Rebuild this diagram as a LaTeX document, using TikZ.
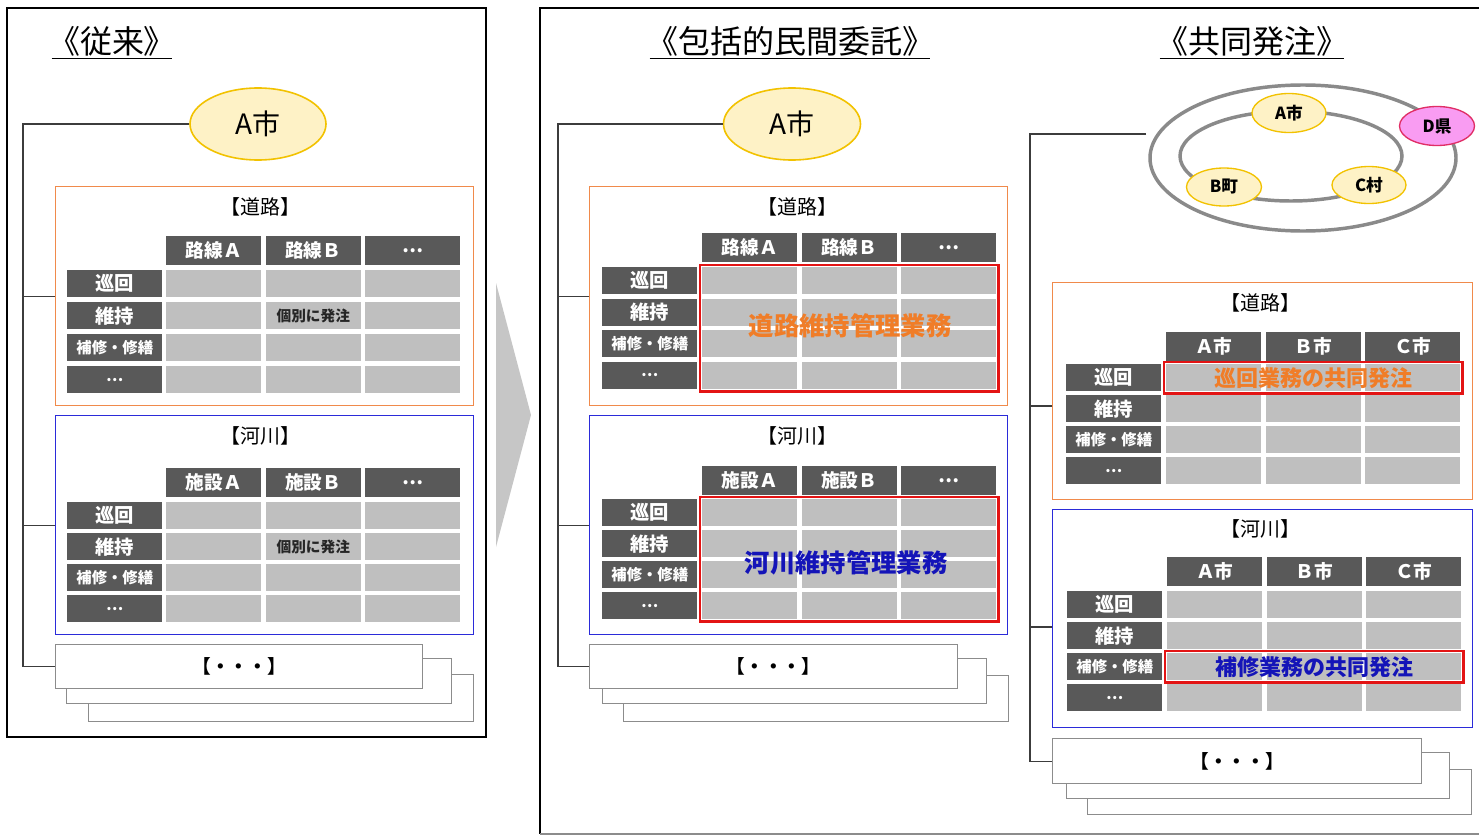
\documentclass[tikz,border=0pt]{standalone}
\usepackage{fontspec}
\setmainfont{Noto Sans CJK JP}
\usetikzlibrary{shapes.geometric,fit,calc}
\definecolor{hdrgray}{HTML}{595959}
\definecolor{cellgray}{HTML}{BFBFBF}
\definecolor{yfill}{HTML}{FEF2C6}
\definecolor{ydraw}{HTML}{F2C200}
\definecolor{roadline}{HTML}{F08A4B}
\definecolor{riverline}{HTML}{2B2BD9}
\definecolor{redline}{HTML}{E31414}
\definecolor{orangetxt}{HTML}{F07D28}
\definecolor{bluetxt}{HTML}{1414B8}
\definecolor{stackline}{HTML}{8C8C8C}
\definecolor{ringgray}{HTML}{8A8A8A}
\definecolor{pinkfill}{HTML}{F99CF2}
\definecolor{pinkdraw}{HTML}{E02E66}
\definecolor{arrowgray}{HTML}{C6C6C6}
\definecolor{connline}{HTML}{3C3C3C}
\def\px{0.75pt}
\tikzset{
  frame/.style={draw=black, line width=1.8pt},
  titlet/.style={inner sep=0pt, font=\fontsize{24}{24}\selectfont},
  uline/.style={line width=0.9pt},
  cityell/.style={ellipse, draw=ydraw, fill=yfill, line width=1.2pt, inner sep=0pt, font=\fontsize{21}{21}\selectfont},
  ringnode/.style={ellipse, draw=ydraw, fill=yfill, line width=1pt, inner sep=0pt, font=\fontsize{12.5}{12.5}\selectfont\bfseries},
  ring/.style={ellipse, draw=ringgray, line width=2.6pt, inner sep=0pt},
  roadbox/.style={draw=roadline, line width=0.8pt, inner sep=0pt, anchor=north west},
  riverbox/.style={draw=riverline, line width=0.9pt, inner sep=0pt, anchor=north west},
  boxlabel/.style={inner sep=0pt, font=\fontsize{15}{15}\selectfont},
  hdr/.style={fill=hdrgray, text=white, minimum width=95*\px, minimum height=29*\px, inner sep=0pt, anchor=north west, font=\fontsize{14}{14}\selectfont\bfseries},
  lab/.style={fill=hdrgray, text=white, minimum width=95*\px, minimum height=27*\px, inner sep=0pt, anchor=north west, font=\fontsize{14.5}{14.5}\selectfont\bfseries},
  labs/.style={lab, font=\fontsize{11.5}{11.5}\selectfont\bfseries},
  cell/.style={fill=cellgray, minimum width=95*\px, minimum height=27*\px, inner sep=0pt, anchor=north west},
  redbox/.style={draw=redline, line width=2.2pt, inner sep=1.5pt},
  stackbox/.style={draw=stackline, fill=white, line width=0.9pt, inner sep=0pt, anchor=north west},
  stacktxt/.style={font=\fontsize{14}{14}\selectfont\bfseries},
  conn/.style={draw=connline, line width=0.8pt},
  cellnote/.style={inner sep=0pt, font=\fontsize{11}{11}\selectfont\bfseries, text=black!85},
  bigred/.style={inner sep=0pt, font=\fontsize{19}{19}\selectfont\bfseries},
  midred/.style={inner sep=0pt, font=\fontsize{16.5}{16.5}\selectfont\bfseries}
}
% #1 prefix, #2 label x, #3 first column x, #4 header y, #5 first row y, #6 row pitch, #7-#9 headers
\newcommand\mktable[9]{%
  \node[hdr] (#1h1) at (#3,#4) {#7};
  \node[hdr] (#1h2) at (#3+99.5,#4) {#8};
  \node[hdr] (#1h3) at (#3+199,#4) {#9};
  \foreach \rowi/\txt/\sty in {1/巡回/lab, 2/維持/lab, 3/補修・修繕/labs, 4/…/labs} {
    \node[\sty] (#1r\rowi) at (#2, {#5+(\rowi-1)*#6}) {\txt};
    \foreach \coli in {1,2,3}
      \node[cell] (#1c\rowi\coli) at ({#3+(\coli-1)*99.5}, {#5+(\rowi-1)*#6}) {};
  }%
}
\begin{document}
\begin{tikzpicture}[x=0.75pt, y=-0.75pt]
\useasboundingbox (0,0) rectangle (1479,835);
\fill[white] (0,0) rectangle (1479,835);

% ---------------- left panel ----------------
\draw[frame] (7,8) rectangle (486,737);
\node[titlet] (LT) at (112,41) {《従来》};
\draw[uline] ([xshift=3pt,yshift=-2pt]LT.south west) -- ([xshift=-3pt,yshift=-2pt]LT.south east);
\node[cityell, minimum width=136*\px, minimum height=72*\px] (LA) at (258,124) {A市};

\node[roadbox, minimum width=418*\px, minimum height=219*\px] (Lroad) at (55,186) {};
\node[boxlabel] (LroadT) at (260,207) {【道路】};
\mktable{Lr}{67}{166}{236}{270}{32}{路線Ａ}{路線Ｂ}{…}
\node[cellnote] (Lnote1) at (Lrc22) {個別に発注};

\node[riverbox, minimum width=418*\px, minimum height=219*\px] (Lriver) at (55,415) {};
\node[boxlabel] (LriverT) at (260,436) {【河川】};
\mktable{Lv}{67}{166}{468}{502}{31}{施設Ａ}{施設Ｂ}{…}
\node[cellnote] (Lnote2) at (Lvc22) {個別に発注};

\node[stackbox, minimum width=385*\px, minimum height=47*\px] (Ls3) at (88,674) {};
\node[stackbox, minimum width=385*\px, minimum height=45*\px] (Ls2) at (66,658) {};
\node[stackbox, minimum width=367*\px, minimum height=44*\px] (Ls1) at (55,644) {};
\node[stacktxt] (Ls1T) at (Ls1) {【・・・】};

\coordinate (Ltrunk) at (23,124);
\draw[conn] (LA.west) -- (Ltrunk) |- (Ls1.west);
\draw[conn] (Lroad.west) -- (Lroad.west -| Ltrunk);
\draw[conn] (Lriver.west) -- (Lriver.west -| Ltrunk);

% ---------------- arrow ----------------
\fill[arrowgray] (496,283) -- (531,415) -- (496,547) -- cycle;

% ---------------- right frame ----------------
\draw[frame] (1500,8) -- (540,8) -- (540,834);
\draw[draw=stackline, line width=0.9pt] (540,834) -- (1500,834);

% ---------------- middle panel ----------------
\node[titlet] (MT) at (790,41) {《包括的民間委託》};
\draw[uline] ([xshift=3pt,yshift=-2pt]MT.south west) -- ([xshift=-3pt,yshift=-2pt]MT.south east);
\node[cityell, minimum width=137*\px, minimum height=72*\px] (MA) at (792,124) {A市};

\node[roadbox, minimum width=418*\px, minimum height=219*\px] (Mroad) at (589,186) {};
\node[boxlabel] (MroadT) at (797,207) {【道路】};
\mktable{Mr}{602}{702}{233}{267}{31.5}{路線Ａ}{路線Ｂ}{…}
\node[redbox, fit=(Mrc11)(Mrc43)] (Mred1) {};
\node[bigred, text=orangetxt] (Mred1T) at (850,326) {道路維持管理業務};

\node[riverbox, minimum width=418*\px, minimum height=219*\px] (Mriver) at (589,415) {};
\node[boxlabel] (MriverT) at (797,436) {【河川】};
\mktable{Mv}{602}{702}{466}{499}{31}{施設Ａ}{施設Ｂ}{…}
\node[redbox, fit=(Mvc11)(Mvc43)] (Mred2) {};
\node[bigred, text=bluetxt] (Mred2T) at (846,563) {河川維持管理業務};

\node[stackbox, minimum width=385*\px, minimum height=46*\px] (Ms3) at (623,675) {};
\node[stackbox, minimum width=384*\px, minimum height=45*\px] (Ms2) at (602,658) {};
\node[stackbox, minimum width=368*\px, minimum height=44*\px] (Ms1) at (589,644) {};
\node[stacktxt] (Ms1T) at (Ms1) {【・・・】};

\coordinate (Mtrunk) at (558,124);
\draw[conn] (MA.west) -- (Mtrunk) |- (Ms1.west);
\draw[conn] (Mroad.west) -- (Mroad.west -| Mtrunk);
\draw[conn] (Mriver.west) -- (Mriver.west -| Mtrunk);

% ---------------- right panel ----------------
\node[titlet] (RT) at (1252,41) {《共同発注》};
\draw[uline] ([xshift=3pt,yshift=-2pt]RT.south west) -- ([xshift=-3pt,yshift=-2pt]RT.south east);

\node[ring, minimum width=306*\px, minimum height=146*\px] (Router) at (1303,158) {};
\node[ring, minimum width=222*\px, minimum height=90*\px] (Rinner) at (1291,156) {};
\node[ringnode, minimum width=74*\px, minimum height=39*\px] (RA) at (1289,113) {A市};
\node[ringnode, minimum width=75*\px, minimum height=38*\px] (RB) at (1224,187) {B町};
\node[ringnode, minimum width=74*\px, minimum height=37*\px] (RC) at (1369,185) {C村};
\node[ringnode, draw=pinkdraw, fill=pinkfill, minimum width=75*\px, minimum height=39*\px] (RD) at (1437,126) {D県};

\node[roadbox, minimum width=420*\px, minimum height=217*\px] (Rroad) at (1052,282) {};
\node[boxlabel] (RroadT) at (1260,303) {【道路】};
\mktable{Rr}{1066}{1166}{332}{364}{31}{Ａ市}{Ｂ市}{Ｃ市}
\node[redbox, fit=(Rrc11)(Rrc13)] (Rred1) {};
\node[midred, text=orangetxt] (Rred1T) at (Rred1) {巡回業務の共同発注};

\node[riverbox, minimum width=420*\px, minimum height=218*\px] (Rriver) at (1052,509) {};
\node[boxlabel] (RriverT) at (1260,529) {【河川】};
\mktable{Rv}{1067}{1167}{557}{591}{31}{Ａ市}{Ｂ市}{Ｃ市}
\node[redbox, fit=(Rvc31)(Rvc33)] (Rred2) {};
\node[midred, text=bluetxt] (Rred2T) at (Rred2) {補修業務の共同発注};

\node[stackbox, minimum width=384*\px, minimum height=45*\px] (Rs3) at (1087,769) {};
\node[stackbox, minimum width=383*\px, minimum height=46*\px] (Rs2) at (1066,752) {};
\node[stackbox, minimum width=369*\px, minimum height=45*\px] (Rs1) at (1052,738) {};
\node[stacktxt] (Rs1T) at (Rs1) {【・・・】};

\coordinate (Rstart) at (1146,134);
\coordinate (Rtrunk) at (1030,134);
\coordinate (Rb1) at (1030,406);
\coordinate (Rb2) at (1030,627);
\draw[conn] (Rstart) -- (Rtrunk) |- (Rs1.west);
\draw[conn] (Rb1) -- (Rb1 -| Rroad.west);
\draw[conn] (Rb2) -- (Rb2 -| Rriver.west);
\end{tikzpicture}
\end{document}
